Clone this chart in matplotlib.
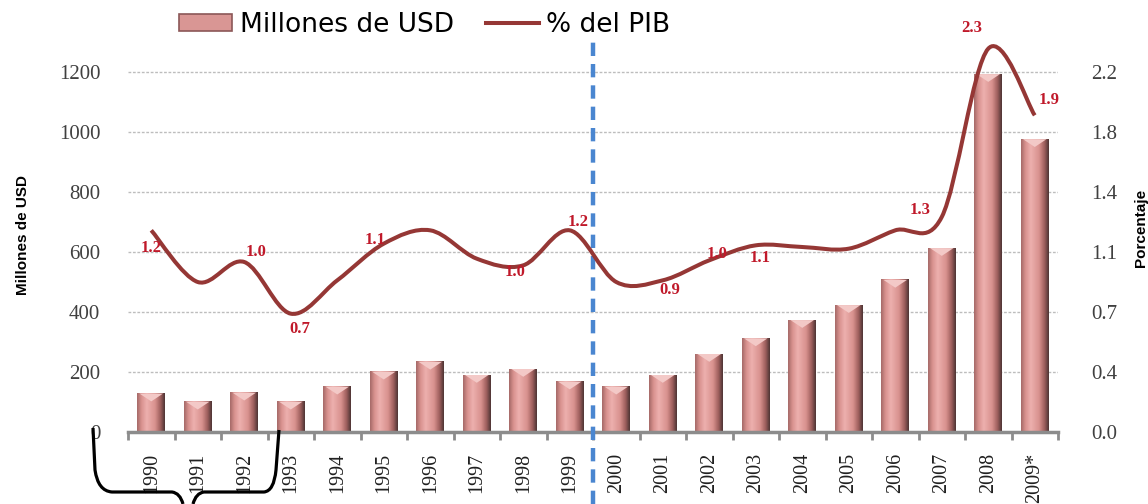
import numpy as np
import matplotlib
matplotlib.use("Agg")
import matplotlib.pyplot as plt
from matplotlib.path import Path
from matplotlib.patches import PathPatch, Patch, Polygon
from matplotlib.lines import Line2D
from matplotlib.colors import LinearSegmentedColormap

# ---------------- data ----------------
years = ['1990', '1991', '1992', '1993', '1994', '1995', '1996', '1997', '1998', '1999',
         '2000', '2001', '2002', '2003', '2004', '2005', '2006', '2007', '2008', '2009*']
millones = [128, 101, 131, 101, 151, 201, 234, 190, 210, 168,
            151, 190, 260, 312, 373, 423, 507, 613, 1193, 976]
pct_pib = [1.21, 0.90, 1.02, 0.71, 0.91, 1.13, 1.21, 1.04, 1.00, 1.21,
           0.90, 0.91, 1.03, 1.12, 1.11, 1.10, 1.21, 1.29, 2.30, 1.90]
# labelled points: index -> text
pct_labels = {0: '1.2', 2: '1.0', 3: '0.7', 5: '1.1', 8: '1.0', 9: '1.2',
              11: '0.9', 12: '1.0', 13: '1.1', 17: '1.3', 18: '2.3', 19: '1.9'}
# pixel offsets of the labels from their point
label_offsets = {0: (0, -18), 2: (12, 10), 3: (9, -15), 5: (-9, 4), 8: (-8, -7), 9: (8, 8),
                 11: (7, -10), 12: (8, 6), 13: (4, -13), 17: (-22, 7), 18: (-17, 21), 19: (14, 15)}
left_ticks = [0, 200, 400, 600, 800, 1000, 1200]
right_max = 2.16

bar_col = '#D99694'
line_col = '#953735'
lab_col = '#C0192A'
tick_col = '#404040'
serif = ['Liberation Serif', 'DejaVu Serif']

fig = plt.figure(figsize=(11.48, 5.04), dpi=100)
W, H = 1148, 504
ax = fig.add_axes([128 / W, 1 - 432 / H, 930 / W, 390 / H])
ax2 = ax.twinx()

x = np.arange(len(years))

# ---------------- bars with a cylinder-like shading ----------------
bars = ax.bar(x, millones, width=0.6, color='none', edgecolor='none', zorder=2)
cmap = LinearSegmentedColormap.from_list('bar', [
    (0.0, '#A56A68'), (0.15, '#D8918E'), (0.35, '#EDB0AE'), (0.65, '#D8918E'),
    (0.85, '#9E5F5D'), (1.0, '#4E3434')])
grad = np.linspace(0, 1, 64).reshape(1, -1)
for p in bars:
    x0, w, h = p.get_x(), p.get_width(), p.get_height()
    ax.imshow(grad, extent=[x0, x0 + w, 0, h], aspect='auto', cmap=cmap,
              interpolation='bicubic', zorder=2)
    d = 26  # depth of the top bevel in data units
    ax.add_patch(Polygon([(x0 + 0.08 * w, h), (x0 + 0.92 * w, h), (x0 + w / 2, h - d)],
                         closed=True, facecolor='#F3C9C7', edgecolor='none', zorder=3))

ax.set_xlim(-0.5, len(years) - 0.5)
ax.set_ylim(0, 1300)
ax.set_yticks(left_ticks)
ax.set_yticklabels([str(v) for v in left_ticks], fontsize=15, color=tick_col, family=serif)
ax.tick_params(axis='y', length=0, pad=20)
ax.yaxis.grid(True, color='#BDBDBD', linestyle=(0, (2, 1.2)), linewidth=1.0)
ax.set_axisbelow(True)

ax.set_xticks(x)
ax.set_xticklabels(years, rotation=90, fontsize=14.5, color='#202020', family=serif)
ax.set_xticks(np.arange(-0.5, len(years)), minor=True)
ax.tick_params(axis='x', which='major', length=0, pad=15)
ax.tick_params(axis='x', which='minor', length=6, width=2, color='#8C8C8C', direction='out')

for s in ['top', 'left', 'right']:
    ax.spines[s].set_visible(False)
    ax2.spines[s].set_visible(False)
ax.spines['bottom'].set_color('#8C8C8C')
ax.spines['bottom'].set_linewidth(2.5)
ax2.spines['bottom'].set_visible(False)

ax.set_ylabel('Millones de USD', fontsize=11, fontweight='bold', family='Liberation Sans')
ax.yaxis.set_label_coords(-98 / 930, (432 - 235) / 390)

# ---------------- smooth line (Bezier through the points) ----------------
pts = np.column_stack([x, pct_pib]).astype(float)
verts = [pts[0]]
codes = [Path.MOVETO]
n = len(pts)
for i in range(n - 1):
    p0 = pts[i - 1] if i > 0 else pts[i]
    p1, p2 = pts[i], pts[i + 1]
    p3 = pts[i + 2] if i + 2 < n else pts[i + 1]
    verts += [p1 + (p2 - p0) / 6, p2 - (p3 - p1) / 6, p2]
    codes += [Path.CURVE4] * 3
ax2.add_patch(PathPatch(Path(verts, codes), facecolor='none', edgecolor=line_col,
                        linewidth=2.9, capstyle='butt', zorder=4, clip_on=False))

ax2.set_ylim(0, right_max * 1300 / 1200)
rt = np.arange(7) * right_max / 6
ax2.set_yticks(rt)
ax2.set_yticklabels([f'{v:.1f}' for v in rt], fontsize=15, color=tick_col, family=serif)
ax2.tick_params(axis='y', length=0, pad=24)
ax2.set_ylabel('Porcentaje', fontsize=11, fontweight='bold', family='Liberation Sans')
ax2.yaxis.set_label_coords(1 + 76 / 930, (432 - 228) / 390)

for i, txt in pct_labels.items():
    dx, dy = label_offsets[i]
    ax2.annotate(txt, (x[i], pct_pib[i]), xytext=(dx * 0.72, dy * 0.72), textcoords='offset points',
                 ha='center', va='center', fontsize=12, fontweight='bold', color=lab_col,
                 family=serif, zorder=5, annotation_clip=False)

# ---------------- dashed separator 1999 / 2000 ----------------
ax.plot([9.5, 9.5], [-72 / 390, 1.0], transform=ax.get_xaxis_transform(), color='#4A86D0',
        linestyle=(0, (3, 1.8)), linewidth=3.2, clip_on=False, zorder=6)

# ---------------- legend ----------------
handles = [Patch(facecolor=bar_col, edgecolor='#8B5757', linewidth=1.2),
           Line2D([], [], color=line_col, linewidth=2.9)]
fig.legend(handles, ['Millones de USD', '% del PIB'], loc='center', ncol=2,
           bbox_to_anchor=(425 / W, 1 - 25 / H), frameon=False, fontsize=19,
           handlelength=2.0, handleheight=0.6, handletextpad=0.3, columnspacing=1.2)

# ---------------- hand drawn brace under 1990-1992 ----------------
def px(xp, yp):
    return (xp / W, 1 - yp / H)

brace = [px(93, 428), px(95, 470), px(98, 491), px(112, 492), px(172, 492),
         px(180, 493), px(183, 504),
         px(193, 504), px(196, 493), px(204, 492), px(264, 492),
         px(274, 491), px(276, 470), px(279, 430)]
bcodes = [Path.MOVETO, Path.LINETO, Path.CURVE3, Path.CURVE3, Path.LINETO,
          Path.CURVE3, Path.CURVE3,
          Path.MOVETO, Path.CURVE3, Path.CURVE3, Path.LINETO,
          Path.CURVE3, Path.CURVE3, Path.LINETO]
fig.patches.append(PathPatch(Path(brace, bcodes), transform=fig.transFigure, facecolor='none',
                             edgecolor='black', linewidth=2.3, zorder=10))

fig.savefig('out.png', dpi=100)
